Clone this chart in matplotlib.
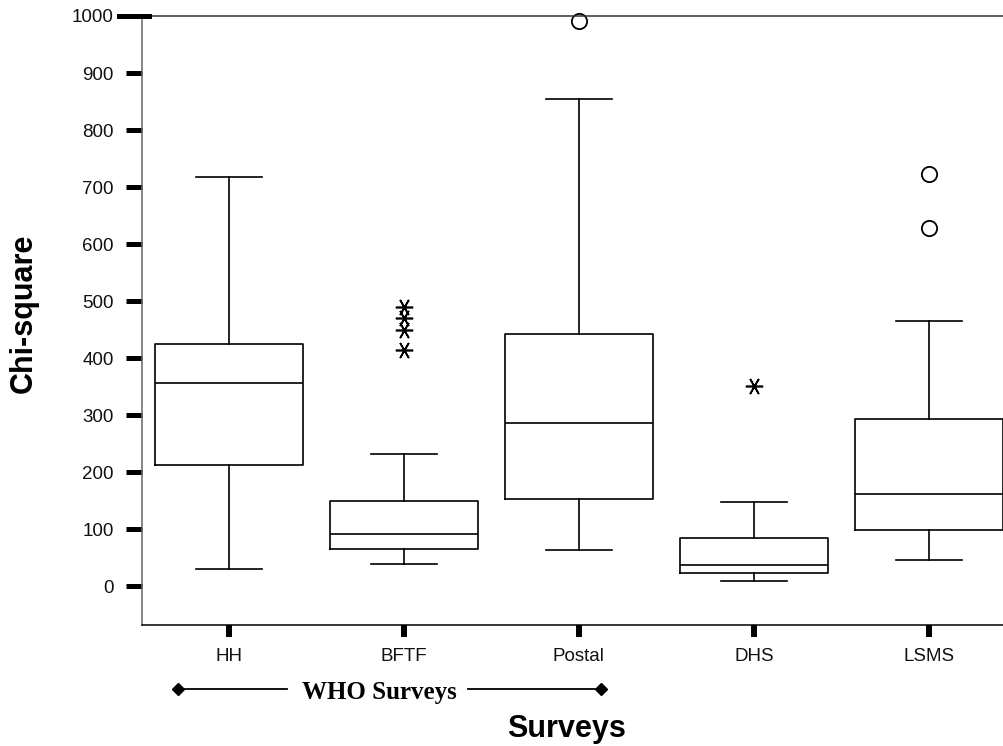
import matplotlib.pyplot as plt
from matplotlib.lines import Line2D

# values (Chi-square by survey)
surveys = ['HH', 'BFTF', 'Postal', 'DHS', 'LSMS']
whisk_lo = [31, 39, 64, 9, 46]
q1 = [212, 65, 153, 24, 98]
median = [357, 91, 287, 38, 161]
q3 = [424, 150, 443, 84, 294]
whisk_hi = [717, 232, 854, 147, 465]
outliers = [[], [], [991], [], [723, 629]]          # drawn as open circles
extremes = [[], [490, 470, 450, 415], [], [351], []]  # drawn as asterisks
y_ticks = [0, 100, 200, 300, 400, 500, 600, 700, 800, 900, 1000]

W, H = 1004, 746
plt.rcParams['font.family'] = ['Liberation Sans', 'DejaVu Sans']

fig = plt.figure(figsize=(W / 100, H / 100), dpi=100)
ax = fig.add_axes([142 / W, 1 - 625 / H, (1004 - 142) / W, (625 - 16) / H])

pos = list(range(1, len(surveys) + 1))
stats = []
for i, s in enumerate(surveys):
    stats.append(dict(label=s, whislo=whisk_lo[i], q1=q1[i], med=median[i],
                      q3=q3[i], whishi=whisk_hi[i], fliers=outliers[i]))

line = dict(color='black', linewidth=1.2)
ax.bxp(stats, positions=pos, widths=0.846, capwidths=0.38, showfliers=True,
       boxprops=line, medianprops=line, whiskerprops=line, capprops=line,
       flierprops=dict(marker='o', markerfacecolor='none', markeredgecolor='black',
                       markersize=11, markeredgewidth=1.3, clip_on=False))

for p, ys in zip(pos, extremes):
    if ys:
        ax.plot([p] * len(ys), ys, ls='none', marker=(6, 2, 90), markersize=12.5,
                markeredgewidth=1.2, color='black')

ax.set_xlim(0.503, 5.43)
ax.set_ylim(-68, 1000)
ax.set_yticks(y_ticks)
ax.set_xticks(pos)
ax.set_xticklabels(surveys)

ax.spines['right'].set_visible(False)
ax.spines['top'].set_color('#333333')
ax.spines['bottom'].set_color('black')
ax.spines['left'].set_color('#666666')
for sp in ['top', 'bottom', 'left']:
    ax.spines[sp].set_linewidth(1.1)

ax.tick_params(axis='y', direction='out', length=11.5, width=3.6, pad=9,
               labelsize=13.5, color='black', labelcolor='#111111')
ax.tick_params(axis='x', direction='out', length=8.6, width=4.3, pad=8,
               labelsize=13.5, color='black', labelcolor='#111111')

def fx(px):
    return px / W

def fy(py):
    return 1 - py / H

# the 1000 tick in the original runs across the axis line
fig.add_artist(Line2D([fx(119), fx(149)], [fy(16), fy(16)], color='black', lw=3.6))

fig.text(fx(24), fy(313), 'Chi-square', rotation=90, ha='center', va='center',
         fontsize=22, fontweight='bold')
fig.text(fx(567), fy(729), 'Surveys', ha='center', va='center',
         fontsize=22, fontweight='bold')

# WHO Surveys bracket under the first three groups
fig.text(fx(379), fy(692), 'WHO Surveys', ha='center', va='center',
         fontsize=18, fontweight='bold', family=['Liberation Serif', 'DejaVu Serif'])
fig.add_artist(Line2D([fx(178), fx(287)], [fy(689), fy(689)], color='black', lw=1.3))
fig.add_artist(Line2D([fx(468), fx(601)], [fy(689), fy(689)], color='black', lw=1.3))
fig.add_artist(Line2D([fx(178), fx(601)], [fy(689), fy(689)], ls='none', marker='D',
                      markersize=6.5, color='black'))

fig.savefig('out.png', dpi=100)
